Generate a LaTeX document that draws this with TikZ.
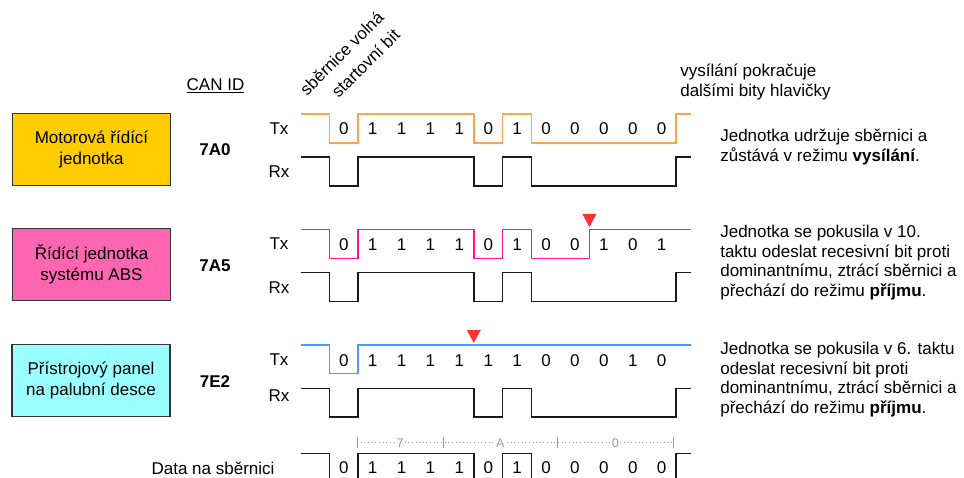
\documentclass[tikz,border=0pt]{standalone}
\usepackage{fontspec}
\setmainfont{Liberation Sans}
\usepackage{tikz}
\definecolor{engine}{HTML}{FFCC00}
\definecolor{abs}{HTML}{FF66B2}
\definecolor{panel}{HTML}{99FFFF}
\definecolor{txorange}{HTML}{FFA347}
\definecolor{txpink}{HTML}{FF1A8C}
\definecolor{txblue}{HTML}{4A9BF5}
\definecolor{edge}{HTML}{333333}
\definecolor{wave}{HTML}{1A1A1A}
\definecolor{alarm}{HTML}{FF3333}
\definecolor{hint}{HTML}{999999}
\tikzset{
  lab/.style={inner sep=0pt, font=\fontsize{12.1}{14}\selectfont},
  ecu/.style={draw=edge, line width=0.8pt, minimum width=3.95cm, minimum height=1.8cm,
    align=center, font=\fontsize{12.1}{14.9}\selectfont},
  idlab/.style={lab, font=\fontsize{12.1}{14}\selectfont\bfseries},
  bit/.style={lab},
  note/.style={anchor=west, inner sep=0pt, align=left, font=\fontsize{12.1}{13.8}\selectfont},
  sig/.style={line width=1.1pt, line join=miter},
  nib/.style={fill=white, text=hint, inner sep=1pt, font=\fontsize{8.9}{10}\selectfont},
}
\begin{document}
\begin{tikzpicture}[x=0.025cm, y=-0.025cm]
\useasboundingbox (0,0) rectangle (964,478);
\clip (0,0) rectangle (964,478);

% control units
\node[ecu, fill=engine] (motor) at (91.5,149.5) {Motorová řídící\\jednotka};
\node[ecu, fill=abs] (absunit) at (91.5,264.7) {Řídící jednotka\\systému ABS};
\node[ecu, fill=panel] (dash) at (91,380.5) {Přístrojový panel\\na palubní desce};

% identifiers
\node[lab] (canid) at (215.5,86) {\underline{CAN ID}};
\node[idlab] (id1) at (215,150) {7A0};
\node[idlab] (id2) at (215,266) {7A5};
\node[idlab] (id3) at (215,381.5) {7E2};

% Tx / Rx labels
\foreach \n/\y/\t in {tx1/129/Tx, rx1/172/Rx, tx2/244/Tx, rx2/288/Rx, tx3/360/Tx, rx3/396/Rx}
  \node[lab] (\n) at (279,\y) {\t};

% transmitted levels
\draw[sig, draw=txorange] (300.7,114) -| (329.3,143) -| (358.2,114) -| (473.8,143)
  -| (502.7,114) -| (531.6,143) -| (676.1,114) -- (690.7,114);
\draw[sig, draw=txpink] (300.7,229.5) -| (329.3,258.5) -| (358.2,229.5) -| (473.8,258.5)
  -| (502.7,229.5) -| (531.6,258.5) -| (589.4,229.5) -- (690.7,229.5);
\draw[sig, draw=txblue] (300.7,345) -| (329.3,373.5) -| (358.2,345) -- (690.7,345);

% received levels and the bus itself
\foreach \hi/\lo in {157/186, 272.5/301.5, 388.5/417, 453.5/490}
  \draw[sig, draw=wave] (300.7,\hi) -| (329.3,\lo) -| (358.2,\hi) -| (473.8,\lo)
    -| (502.7,\hi) -| (531.6,\lo) -| (676.1,\hi) -- (690.7,\hi);

% bit values, 12 bits per row
\foreach \r/\y/\bits in {1/129/{0,1,1,1,1,0,1,0,0,0,0,0},
                         2/245/{0,1,1,1,1,0,1,0,0,1,0,1},
                         3/360.7/{0,1,1,1,1,1,1,0,0,0,1,0},
                         4/468/{0,1,1,1,1,0,1,0,0,0,0,0}}
  \foreach \b [count=\i from 0] in \bits
    \node[bit] (b\r-\i) at ({343.75+28.9*\i},\y) {\b};

% lost arbitration
\fill[alarm] (582.4,214) -- (596.4,214) -- (589.4,227) -- cycle;
\fill[alarm] (466.8,330) -- (480.8,330) -- (473.8,343) -- cycle;

% nibbles of the identifier
\draw[hint, dotted, line width=0.6pt] (357,442.7) -- (673.3,442.7);
\foreach \x in {357,443.5,557.3,673.3}
  \draw[hint, line width=0.6pt] (\x,437) -- (\x,448);
\foreach \n/\x/\t in {n7/400/7, nA/500.4/A, n0/615.3/0}
  \node[nib] (\n) at (\x,442.7) {\t};

% headings
\node[lab, rotate=45, anchor=base west] (free) at (307,96.5) {sběrnice volná};
\node[lab, rotate=45, anchor=base west] (start) at (338.5,99) {startovní bit};
\node[lab] (bus) at (213,468) {Data na sběrnici};

% notes
\node[note] (more) at (680,82) {vysílání pokračuje\\dalšími bity hlavičky};
\node[note] (keep) at (720,147) {Jednotka udržuje sběrnici a\\zůstává v režimu \textbf{vysílání}.};
\node[note] (lost1) at (720,262.5) {Jednotka se pokusila v 10.\\taktu odeslat recesivní bit proti\\dominantnímu, ztrácí sběrnici a\\přechází do režimu \textbf{příjmu}.};
\node[note] (lost2) at (720,379.5) {Jednotka se pokusila v 6. taktu\\odeslat recesivní bit proti\\dominantnímu, ztrácí sběrnici a\\přechází do režimu \textbf{příjmu}.};
\end{tikzpicture}
\end{document}
